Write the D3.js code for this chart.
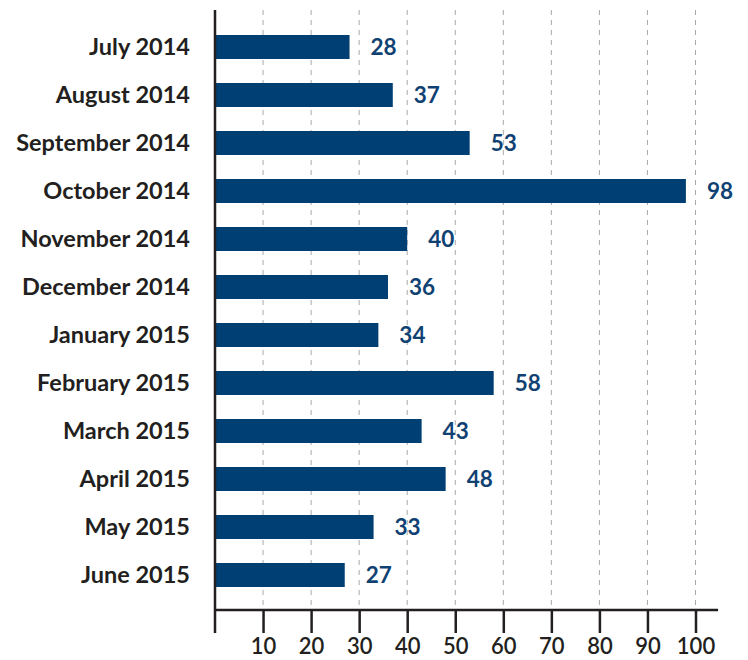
<!DOCTYPE html>
<html>
<head>
<meta charset="utf-8">
<script src="https://cdn.jsdelivr.net/npm/d3@7"></script>
<style>
  body { margin: 0; background: #fff; }
  svg text { font-family: Lato, "Open Sans", sans-serif; }
</style>
</head>
<body>
<div id="chart"></div>
<script>
// months and counts
const months = ['July 2014', 'August 2014', 'September 2014', 'October 2014', 'November 2014',
  'December 2014', 'January 2015', 'February 2015', 'March 2015', 'April 2015', 'May 2015', 'June 2015'];
const counts = [28, 37, 53, 98, 40, 36, 34, 58, 43, 48, 33, 27];
const tickValues = [10, 20, 30, 40, 50, 60, 70, 80, 90, 100];

const width = 748, height = 660;
const margin = { top: 10, left: 215, bottom: 50, right: 28 };
const axisY = height - margin.bottom;

const data = months.map((m, i) => ({ month: m, value: counts[i] }));

const svg = d3.select('#chart')
  .append('svg')
  .attr('width', width)
  .attr('height', height);

const x = d3.scaleLinear()
  .domain([0, 100])
  .range([margin.left, margin.left + 480.5]);

const y = d3.scaleBand()
  .domain(months)
  .range([23, 599])
  .paddingInner(0.5)
  .paddingOuter(0.25);

// dashed gridlines
svg.append('g')
  .selectAll('line')
  .data(tickValues)
  .join('line')
  .attr('x1', d => x(d)).attr('x2', d => x(d))
  .attr('y1', margin.top).attr('y2', axisY)
  .style('stroke', '#a8a8a8')
  .style('stroke-width', 1)
  .style('stroke-dasharray', '5,5');

// bars
svg.append('g')
  .selectAll('rect')
  .data(data)
  .join('rect')
  .attr('x', x(0))
  .attr('y', d => y(d.month))
  .attr('width', d => x(d.value) - x(0))
  .attr('height', y.bandwidth())
  .style('fill', '#003f73');

// value labels
svg.append('g')
  .selectAll('text')
  .data(data)
  .join('text')
  .attr('x', d => x(d.value) + 21)
  .attr('y', d => y(d.month) + y.bandwidth() / 2)
  .attr('dy', '0.36em')
  .text(d => d.value)
  .style('fill', '#0f4272')
  .style('font-size', '22.5px')
  .style('font-weight', 'bold');

// category labels
svg.append('g')
  .selectAll('text')
  .data(data)
  .join('text')
  .attr('x', margin.left - 25)
  .attr('y', d => y(d.month) + y.bandwidth() / 2)
  .attr('dy', '0.36em')
  .attr('text-anchor', 'end')
  .text(d => d.month)
  .style('fill', '#231f20')
  .style('font-size', '23.5px')
  .style('font-weight', 'bold');

// x axis
const xAxis = d3.axisBottom(x)
  .tickValues(tickValues)
  .tickSize(23)
  .tickPadding(5)
  .tickSizeOuter(0);

const gx = svg.append('g')
  .attr('class', 'x-axis')
  .attr('transform', `translate(0, ${axisY})`)
  .call(xAxis);

gx.select('.domain').remove();
gx.append('line')
  .attr('x1', x(0)).attr('x2', x(104.7))
  .attr('y1', 0).attr('y2', 0)
  .style('stroke', '#231f20')
  .style('stroke-width', 2.5);
gx.selectAll('.tick line')
  .style('stroke', '#231f20')
  .style('stroke-width', 2.5);
gx.selectAll('.tick text')
  .style('fill', '#231f20')
  .style('font-size', '22px')
  .style('font-weight', 600);

// y axis line
svg.append('line')
  .attr('x1', x(0)).attr('x2', x(0))
  .attr('y1', margin.top).attr('y2', axisY + 23)
  .style('stroke', '#231f20')
  .style('stroke-width', 2.5);
</script>
</body>
</html>
